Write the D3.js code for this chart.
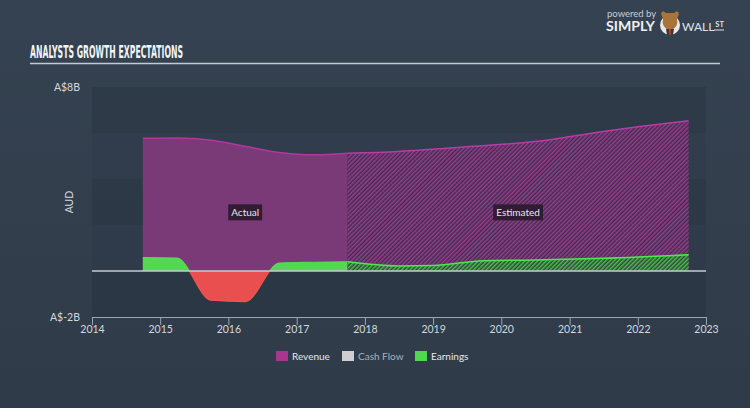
<!DOCTYPE html>
<html>
<head>
<meta charset="utf-8">
<script src="https://cdn.jsdelivr.net/npm/d3@7"></script>
<style>
  html, body { margin: 0; padding: 0; background: #333f4e; }
  svg { display: block; }
</style>
</head>
<body>
<div id="chart"></div>
<script>
// values (A$ billions)
const revenueActualDates = ["2014-09-30", "2015-03-31", "2015-09-30", "2016-03-31", "2016-09-30", "2017-03-31", "2017-09-30"];
const revenueActual = [5.77, 5.78, 5.68, 5.42, 5.15, 5.05, 5.12];
const earningsActualDates = ["2014-09-30", "2015-03-31", "2015-09-30", "2016-03-31", "2016-09-30", "2017-03-31", "2017-09-30"];
const earningsActual = [0.58, 0.56, -1.27, -1.33, 0.34, 0.38, 0.40];

const revenueEstDates = ["2017-09-30", "2018-06-30", "2019-06-30", "2020-06-30", "2021-06-30", "2022-01-01", "2022-09-30"];
const revenueEst = [5.12, 5.20, 5.40, 5.63, 6.07, 6.27, 6.53];
const earningsEstDates = ["2017-09-30", "2018-06-30", "2019-01-01", "2019-09-30", "2020-06-30", "2021-06-30", "2022-09-30"];
const earningsEst = [0.40, 0.22, 0.24, 0.45, 0.48, 0.55, 0.71];

const yTickValues = [-2, 8];
const yTickLabels = ["A$-2B", "A$8B"];
const xTickYears = [2014, 2015, 2016, 2017, 2018, 2019, 2020, 2021, 2022, 2023];
const legendNames = ["Revenue", "Cash Flow", "Earnings"];
const legendColors = ["#a8358f", "#cfcfcf", "#4fd94f"];

const width = 750, height = 408;
const margin = { top: 87, right: 44, bottom: 91, left: 92 };
const font = "Lato, 'Open Sans', sans-serif";

const parse = d3.timeParse("%Y-%m-%d");
const zip = (ds, vs) => ds.map((d, i) => ({ date: parse(d), value: vs[i] }));

const revA = zip(revenueActualDates, revenueActual);
const earnA = zip(earningsActualDates, earningsActual);
const revE = zip(revenueEstDates, revenueEst);
const earnE = zip(earningsEstDates, earningsEst);

const x = d3.scaleTime()
    .domain([new Date(2014, 0, 1), new Date(2023, 0, 1)])
    .range([margin.left, width - margin.right]);
const y = d3.scaleLinear()
    .domain([-2, 8])
    .range([height - margin.bottom, margin.top]);

const svg = d3.select("#chart").append("svg")
    .attr("width", width)
    .attr("height", height);

const defs = svg.append("defs");

const bg = defs.append("linearGradient").attr("id", "bg")
    .attr("x1", 0).attr("y1", 0).attr("x2", 0).attr("y2", 1);
bg.append("stop").attr("offset", 0).attr("stop-color", "#354251");
bg.append("stop").attr("offset", 1).attr("stop-color", "#2f3b49");

function hatch(id, base, stroke) {
    const p = defs.append("pattern").attr("id", id)
        .attr("patternUnits", "userSpaceOnUse")
        .attr("width", 3).attr("height", 3)
        .attr("patternTransform", "rotate(45)");
    p.append("rect").attr("width", 3).attr("height", 3).attr("fill", base);
    p.append("line").attr("x1", 0.75).attr("y1", 0).attr("x2", 0.75).attr("y2", 3)
        .attr("stroke", stroke).attr("stroke-width", 1.4);
}
hatch("hatchRev", "#3d2e4a", "#a03c95");
hatch("hatchEarn", "#2f463c", "#4fc64f");

// clip above / below zero
defs.append("clipPath").attr("id", "pos").append("rect")
    .attr("x", 0).attr("y", 0).attr("width", width).attr("height", y(0));
defs.append("clipPath").attr("id", "neg").append("rect")
    .attr("x", 0).attr("y", y(0)).attr("width", width).attr("height", height - y(0));

svg.append("rect").attr("width", width).attr("height", height).attr("fill", "url(#bg)");

// title
svg.append("text")
    .attr("x", 30).attr("y", 58)
    .attr("font-family", "'Liberation Sans Narrow', 'DejaVu Sans Condensed', sans-serif")
    .attr("font-weight", "bold")
    .attr("font-size", 17)
    .attr("textLength", 153)
    .attr("lengthAdjust", "spacingAndGlyphs")
    .attr("fill", "#f2f4f6")
    .text("ANALYSTS GROWTH EXPECTATIONS");
svg.append("line")
    .attr("x1", 30).attr("x2", 720).attr("y1", 63.5).attr("y2", 63.5)
    .attr("stroke", "#c3cad2").attr("stroke-width", 1.5);

// logo
const logo = svg.append("g").attr("font-family", font);
logo.append("text").attr("x", 607).attr("y", 17).attr("font-size", 9.5)
    .attr("fill", "#c9ced4").text("powered by");
logo.append("text").attr("x", 606).attr("y", 30.5).attr("font-size", 13).attr("font-weight", "bold")
    .attr("fill", "#eef0f2").attr("textLength", 49).attr("lengthAdjust", "spacingAndGlyphs").text("SIMPLY");
logo.append("circle").attr("cx", 670).attr("cy", 25).attr("r", 10).attr("fill", "#e8e8e8");
logo.append("path").attr("d", "M661,14 Q662,9 666,13 L674,13 Q678,9 679,14 L677,19 Q679,27 670,31 Q661,27 663,19 Z")
    .attr("fill", "#a8743a");
logo.append("path").attr("d", "M666,29 L674,29 L673,35 L667,35 Z").attr("fill", "#3a3a3a");
logo.append("line").attr("x1", 670).attr("x2", 670).attr("y1", 29).attr("y2", 35)
    .attr("stroke", "#d2452a").attr("stroke-width", 1.5);
const wall = logo.append("text").attr("x", 682).attr("y", 30.5).attr("font-size", 12)
    .attr("fill", "#dfe3e7");
wall.append("tspan").text("WALL");
wall.append("tspan").attr("font-size", 7.5).attr("font-weight", "bold").attr("dx", 1).attr("dy", -3.5).text("ST");
logo.append("line").attr("x1", 714).attr("x2", 724).attr("y1", 30).attr("y2", 30)
    .attr("stroke", "#dfe3e7").attr("stroke-width", 1);

// background bands, 2B each
const bandEdges = d3.range(-2, 8, 2);
svg.append("g").selectAll("rect")
    .data(bandEdges)
    .enter().append("rect")
    .attr("x", x.range()[0])
    .attr("width", x.range()[1] - x.range()[0])
    .attr("y", d => y(d + 2))
    .attr("height", d => y(d) - y(d + 2))
    .attr("fill", (d, i) => i % 2 === 0 ? "rgba(20,28,38,0.17)" : "rgba(20,28,38,0.05)");

const curve = d3.curveMonotoneX;
const area = d3.area().curve(curve).x(d => x(d.date)).y0(y(0)).y1(d => y(d.value));
const line = d3.line().curve(curve).x(d => x(d.date)).y(d => y(d.value));

const plot = svg.append("g");

// revenue
plot.append("path").attr("d", area(revA)).attr("fill", "#7a3977");
plot.append("path").attr("d", area(revE)).attr("fill", "url(#hatchRev)");
plot.append("path").attr("d", line(revA)).attr("fill", "none").attr("stroke", "#b1389f").attr("stroke-width", 1.5);
plot.append("path").attr("d", line(revE)).attr("fill", "none").attr("stroke", "#b83ca6").attr("stroke-width", 1.5);

// earnings, green above zero and red below
plot.append("path").attr("d", area(earnA)).attr("fill", "#55d655").attr("clip-path", "url(#pos)");
plot.append("path").attr("d", area(earnA)).attr("fill", "#ea4f50").attr("clip-path", "url(#neg)");
plot.append("path").attr("d", line(earnA)).attr("fill", "none").attr("stroke", "#4fe04f")
    .attr("stroke-width", 1.2).attr("clip-path", "url(#pos)");
plot.append("path").attr("d", line(earnA)).attr("fill", "none").attr("stroke", "#f0544f")
    .attr("stroke-width", 1.2).attr("clip-path", "url(#neg)");
plot.append("path").attr("d", area(earnE)).attr("fill", "url(#hatchEarn)");
plot.append("path").attr("d", line(earnE)).attr("fill", "none").attr("stroke", "#4de84d").attr("stroke-width", 1.5);

// zero line
svg.append("line")
    .attr("x1", x.range()[0]).attr("x2", x.range()[1])
    .attr("y1", y(0)).attr("y2", y(0))
    .attr("stroke", "#c4cbd1").attr("stroke-width", 1.5);

// Actual / Estimated tags
const labelValue = 2.55;
const tags = [
    { text: "Actual", from: revA[0].date, to: revA[revA.length - 1].date },
    { text: "Estimated", from: revE[0].date, to: revE[revE.length - 1].date }
];
tags.forEach(t => {
    const cx = (x(t.from) + x(t.to)) / 2, cy = y(labelValue);
    const g = svg.append("g");
    const txt = g.append("text").attr("x", cx).attr("y", cy + 3.5)
        .attr("text-anchor", "middle").attr("font-family", font).attr("font-size", 10)
        .attr("fill", "#ece6ec").text(t.text);
    const bb = txt.node().getBBox();
    g.insert("rect", "text")
        .attr("x", bb.x - 3).attr("y", cy - 8).attr("width", bb.width + 6).attr("height", 16)
        .attr("fill", "#2a1a2e").attr("opacity", 0.9);
});

// y labels
svg.append("g").selectAll("text")
    .data(yTickValues)
    .enter().append("text")
    .attr("x", 80).attr("y", d => y(d) + 4)
    .attr("text-anchor", "end")
    .attr("font-family", font).attr("font-size", 10.5)
    .attr("fill", "#d4d8dd")
    .text((d, i) => yTickLabels[i]);
svg.append("text")
    .attr("transform", `translate(73, ${(y(-2) + y(8)) / 2}) rotate(-90)`)
    .attr("text-anchor", "middle")
    .attr("font-family", font).attr("font-size", 10.5)
    .attr("fill", "#d4d8dd")
    .text("AUD");

// x axis
const xAxis = svg.append("g")
    .attr("transform", `translate(0, ${y(-2)})`)
    .call(d3.axisBottom(x)
        .tickValues(xTickYears.map(yr => new Date(yr, 0, 1)))
        .tickFormat(d3.timeFormat("%Y"))
        .tickSize(8)
        .tickSizeOuter(0));
xAxis.select(".domain").attr("stroke", "#9aa6b2");
xAxis.selectAll(".tick line").attr("stroke", "#9aa6b2");
xAxis.selectAll(".tick text")
    .attr("font-family", font).attr("font-size", 10.5)
    .attr("fill", "#d4d8dd").attr("dy", "0.45em");

// legend
const legendX = [276, 342, 415];
const legend = svg.append("g").selectAll("g")
    .data(legendNames)
    .enter().append("g")
    .attr("transform", (d, i) => `translate(${legendX[i]}, 351)`);
legend.append("rect").attr("width", 12).attr("height", 10)
    .attr("fill", (d, i) => legendColors[i]);
legend.append("text").attr("x", 16).attr("y", 9)
    .attr("font-family", font).attr("font-size", 10)
    .attr("fill", (d, i) => i === 1 ? "#a9b1ba" : "#e6e8ea")
    .text(d => d);
</script>
</body>
</html>
